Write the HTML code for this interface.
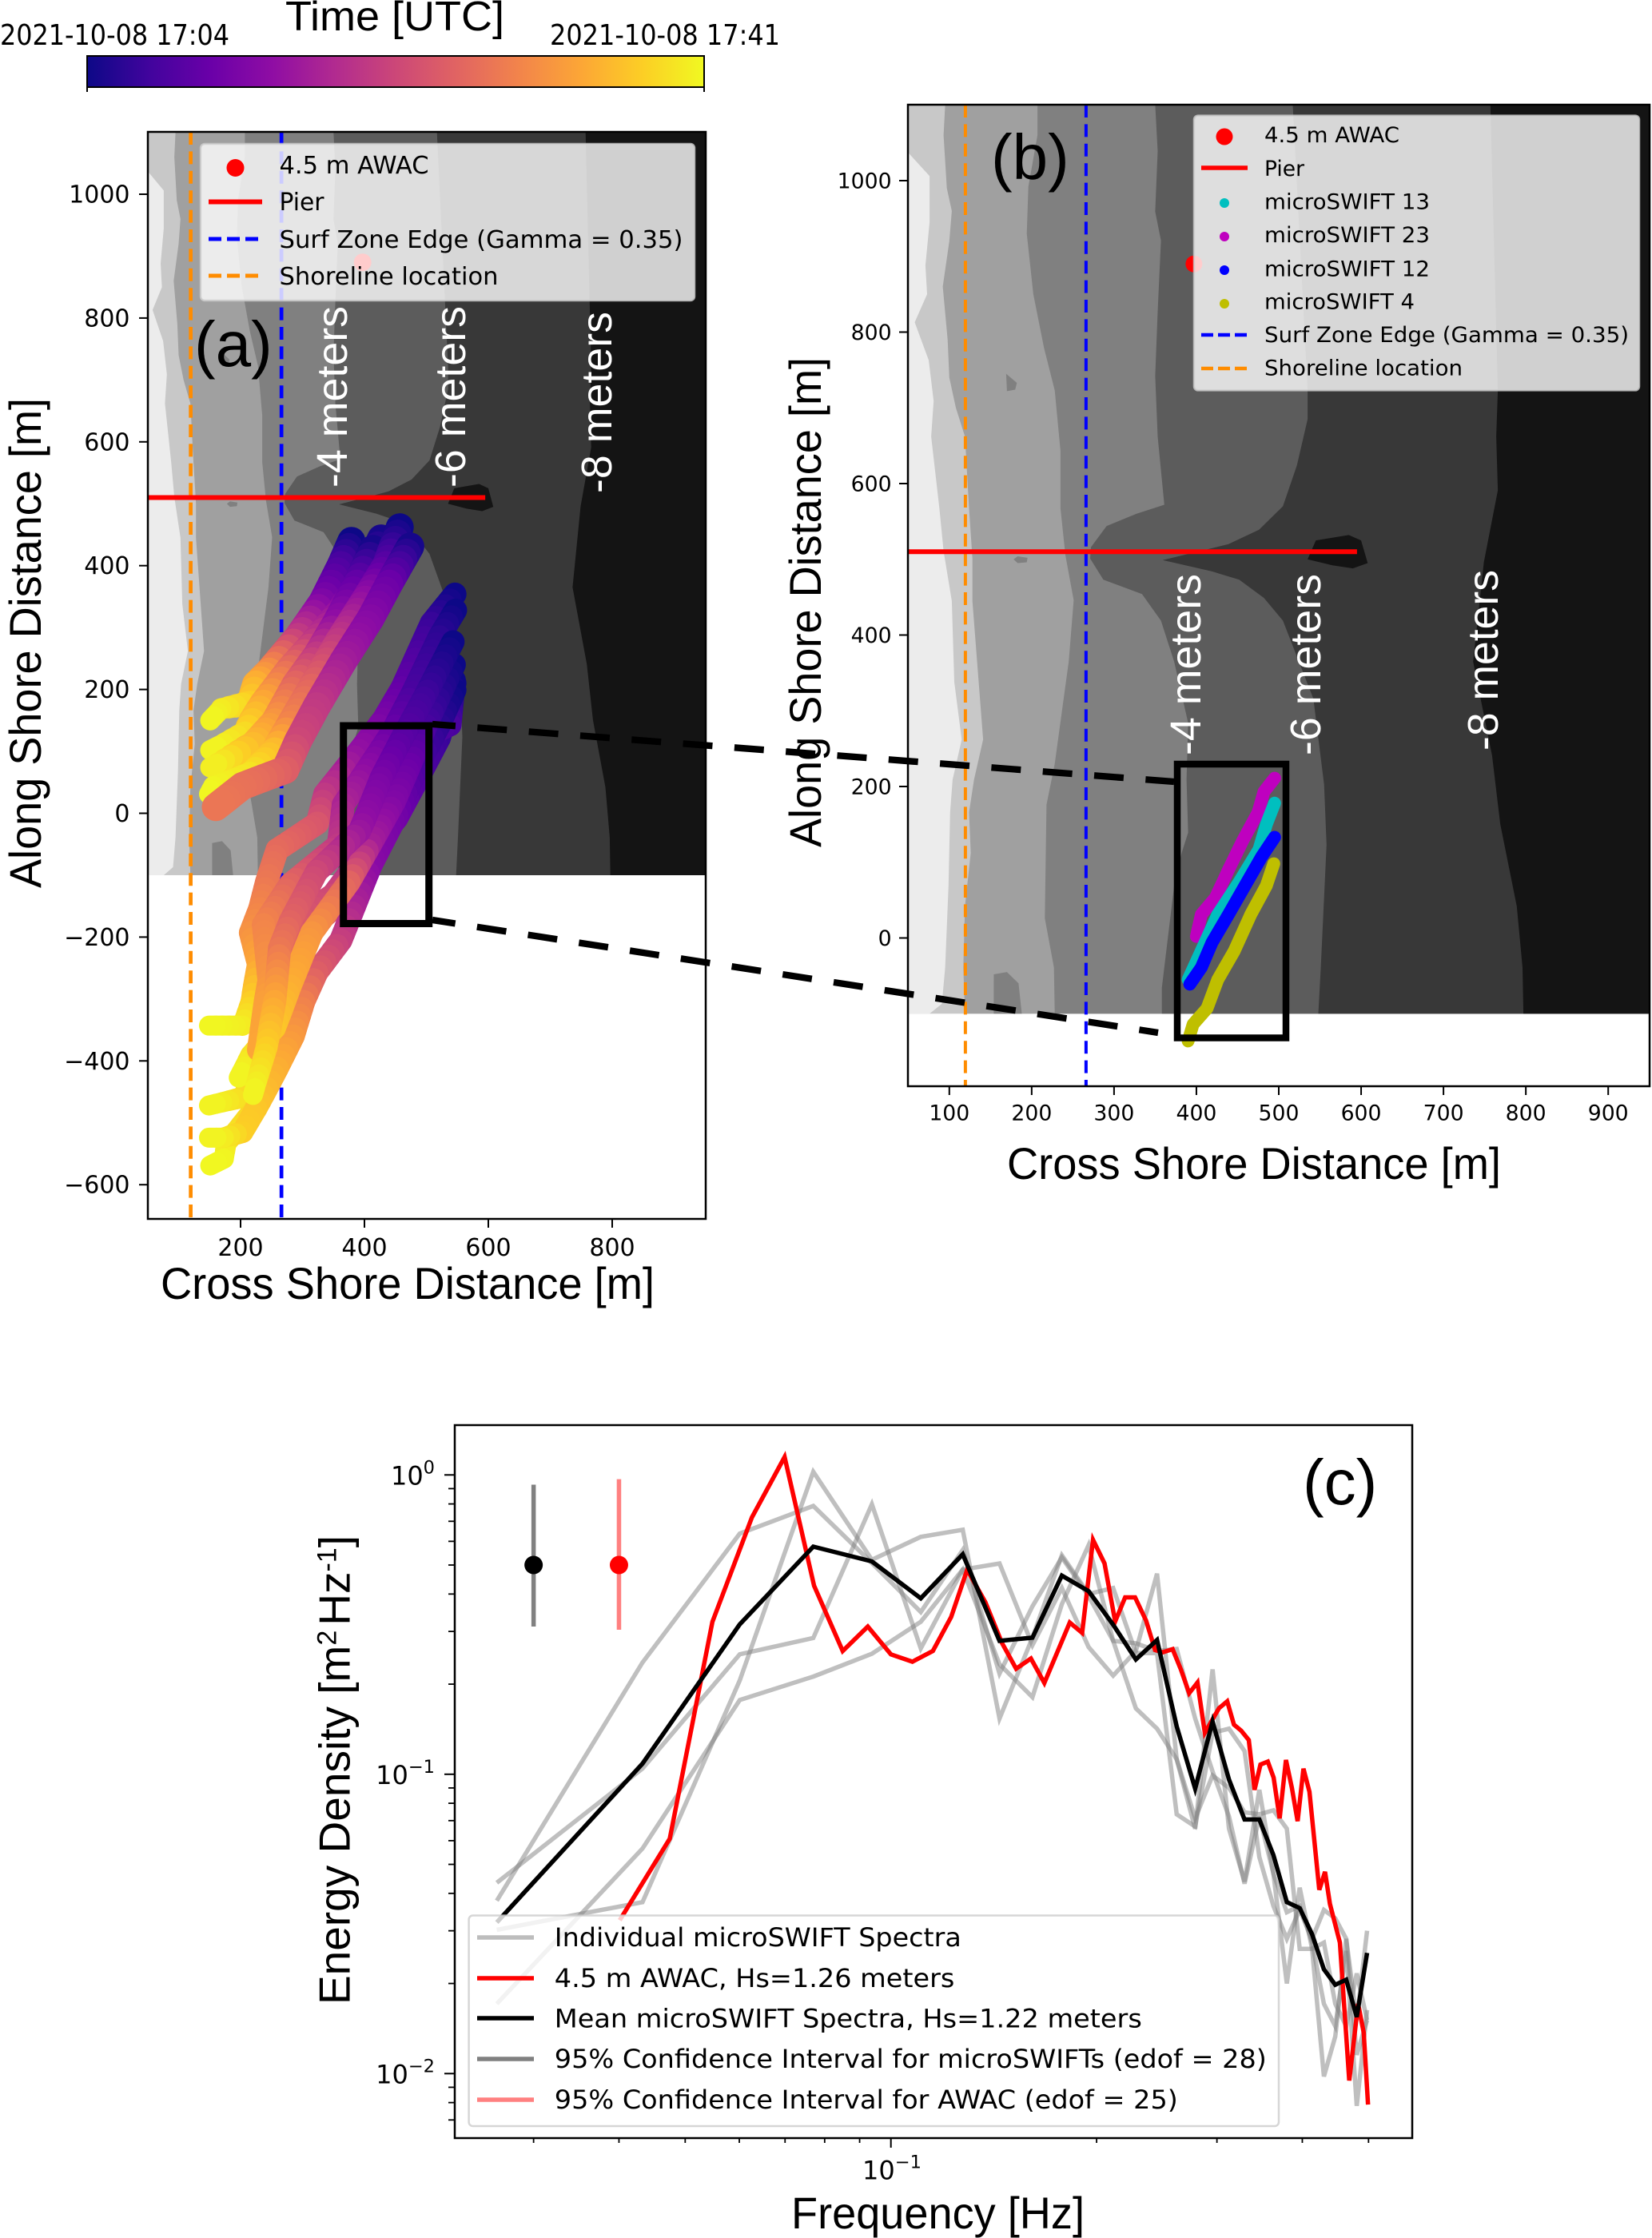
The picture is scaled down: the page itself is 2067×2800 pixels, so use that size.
<!DOCTYPE html>
<html lang="en">
<head>
<meta charset="utf-8">
<title>microSWIFT drift tracks and wave spectra</title>
<style>
html,body{margin:0;padding:0;background:#fff;}
svg{display:block;}
.dj{font-family:"DejaVu Sans",sans-serif;fill:#000;}
.ls{font-family:"Liberation Sans",sans-serif;fill:#000;}
</style>
</head>
<body>
<svg id="fig" xmlns="http://www.w3.org/2000/svg" width="2067" height="2800" viewBox="0 0 2067 2800">
<defs>
<linearGradient id="plasma" x1="0" x2="1" y1="0" y2="0">
<stop offset="0" stop-color="#0d0887"/><stop offset=".1" stop-color="#41049d"/><stop offset=".2" stop-color="#6a00a8"/><stop offset=".3" stop-color="#8f0da4"/><stop offset=".4" stop-color="#b12a90"/><stop offset=".5" stop-color="#cc4778"/><stop offset=".6" stop-color="#e16462"/><stop offset=".7" stop-color="#f2844b"/><stop offset=".8" stop-color="#fca636"/><stop offset=".9" stop-color="#fcce25"/><stop offset="1" stop-color="#f0f921"/>
</linearGradient>
<clipPath id="clipA"><rect x="185" y="165" width="698" height="1360"/></clipPath>
<clipPath id="clipB"><rect x="1136" y="131" width="928" height="1228"/></clipPath>
<clipPath id="clipC"><rect x="569" y="1783" width="1198" height="892"/></clipPath>
</defs>

<g>
<text class="ls" x="357" y="38" font-size="52" textLength="274" lengthAdjust="spacingAndGlyphs">Time [UTC]</text>
<text class="dj" x="0" y="56" font-size="36" textLength="287" lengthAdjust="spacingAndGlyphs">2021-10-08 17:04</text>
<text class="dj" x="688" y="56" font-size="36" textLength="288" lengthAdjust="spacingAndGlyphs">2021-10-08 17:41</text>
<rect x="109" y="70" width="772" height="39" fill="url(#plasma)" stroke="#000" stroke-width="2"/>
<line x1="109" x2="109" y1="109" y2="115" stroke="#000" stroke-width="2"/>
<line x1="881" x2="881" y1="109" y2="115" stroke="#000" stroke-width="2"/>
</g>

<g id="panelA"></g>
<g id="panelB"></g>
<g id="panelC"></g>
<g id="overlays">
<line x1="541" y1="906" x2="1469" y2="978" stroke="#000" stroke-width="8.3" stroke-dasharray="37 27.5" stroke-dashoffset="8"/>
<line x1="541" y1="1151" x2="1449" y2="1292" stroke="#000" stroke-width="8.3" stroke-dasharray="37 27.5" stroke-dashoffset="8"/>
</g>
</svg>

<script>
// ---------- bathymetry contours (cross-shore m, along-shore m) ----------
const contourBeach = [[50,1037],[76,1006],[76,945],[71,888],[73,850],[58,813],[75,763],[81,709],[78,662],[88,567],[93,511],[103,445],[106,338],[115,262],[104,209],[101,166],[99,69],[95,-39],[91,-87],[76,-100],[50,-100]];
const contourMinus1 = [[95,1100],[93,1060],[97,990],[103,960],[100,920],[92,860],[98,790],[100,740],[108,700],[119,662],[124,567],[128,501],[128,445],[141,262],[130,209],[124,166],[126,112],[119,42],[117,-39],[119,-100]];
const contourMinus2 = [[207,1100],[207,1060],[196,992],[194,930],[202,850],[215,779],[228,723],[235,643],[235,567],[241,505],[251,446],[245,365],[228,230],[218,176],[216,26],[227,-39],[228,-100]];
const contourMinus4 = [[350,1100],[353,1039],[350,959],[357,921],[353,827],[350,742],[353,662],[361,572],[327,560],[291,544],[272,516],[271,501],[287,473],[334,454],[357,419],[373,365],[390,284],[388,209],[390,139],[382,112],[373,69],[358,-66],[358,-100]];
const contourMinus6 = [[517,1100],[535,723],[535,685],[522,624],[505,570],[476,539],[439,520],[413,513],[359,499],[419,484],[452,473],[482,449],[505,419],[542,316],[555,203],[558,123],[551,-39],[548,-100]];
const contourMinus8 = [[757,1100],[766,723],[764,662],[766,591],[749,496],[736,365],[759,241],[769,150],[789,42],[796,-39],[797,-100]];
const pierHole = [[535,500],[545,525],[585,532],[600,525],[608,495],[590,488],[565,492]];
const shoalNorth = [[169,745],[182,733],[180,724],[170,722]];
const shoalPier = [[178,500],[183,504],[195,502],[194,496],[183,495]];
const shoalSouth = [[154,-100],[154,-48],[170,-45],[184,-60],[188,-100]];
const bandShades = ['#a0a0a0','#808080','#5c5c5c','#383838','#141414'];

// ---------- site constants ----------
const shorelineX = 119.5;
const surfEdgeX = 266;
const pierY = 510;
const pierEndX = 595;
const awacPos = [397, 890];
const domainSouth = -100;

// ---------- panel (a) drift tracks: [cross-shore, along-shore, normalised time] ----------
const trackN1 = [[474,431,.02],[440,371,.2],[410,315,.27],[366,246,.35],[323,173,.45],[293,117,.5],[272,70,.58],[237,57,.62],[203,44,.64],[160,10,.66]];
const trackN2 = [[457,462,0],[435,401,.15],[401,345,.3],[358,277,.45],[315,203,.6],[280,143,.7],[255,100,.85],[216,66,.95],[156,44,.99],[149,31,1]];
const trackN3 = [[414,427,.02],[388,371,.18],[354,307,.3],[323,255,.45],[289,208,.6],[255,147,.75],[220,109,.85],[151,74,1]];
const trackN4 = [[427,444,.02],[401,388,.15],[362,328,.3],[319,276,.45],[280,233,.62],[237,177,.8],[207,130,.93],[151,102,1]];
const trackN5 = [[379,440,0],[362,401,.12],[332,341,.25],[293,285,.45],[246,229,.72],[225,208,.82],[216,178,.9],[169,169,.97],[151,150,1]];
const trackSA = [[546,199,0],[521,143,.06],[487,79,.12],[452,-3,.22],[410,-85,.28],[384,-150,.38],[362,-205,.47],[323,-257,.58],[302,-304,.68],[285,-360,.76],[259,-412,.82],[225,-477,.88],[203,-515,.9],[173,-524,.97],[149,-524,1]];
const trackSB = [[546,354,0],[508,307,.08],[461,203,.18],[431,152,.24],[384,91,.32],[336,31,.45],[324,-16,.55],[259,-59,.62],[242,-111,.66],[231,-154,.7],[216,-193,.74],[229,-244,.8],[218,-304,.9],[203,-343,.97],[149,-343,1]];
const trackSC = [[547,328,0],[521,285,.06],[478,195,.12],[444,130,.2],[410,79,.28],[366,14,.38],[358,-51,.45],[280,-115,.6],[237,-180,.7],[246,-270,.75],[240,-304,.78],[229,-382,.8]];
const trackSD = [[543,277,0],[496,186,.1],[461,122,.16],[427,57,.24],[401,-8,.3],[392,-29,.33],[323,-94,.5],[280,-175,.6],[263,-218,.66],[255,-304,.8],[242,-378,.9],[220,-455,1]];
const trackSE = [[545,240,0],[504,152,.1],[474,79,.2],[448,18,.26],[410,-50,.36],[375,-111,.6],[315,-193,.75],[280,-279,.82],[255,-347,.88],[216,-391,.95],[197,-427,1]];
const trackSF = [[545,215,0],[538,143,.12],[495,122,.16],[461,53,.2],[435,-8,.27],[427,-29,.29],[349,-132,.5],[298,-167,.55],[272,-210,.6],[263,-270,.68],[242,-391,.85],[203,-459,.93],[149,-472,1]];
const trackSG = [[546,210,0],[521,122,.08],[487,57,.14],[452,-8,.22],[435,-29,.26],[392,-89,.4],[358,-145,.52],[306,-193,.6],[268,-261,.7],[263,-347,.82],[255,-412,.88],[216,-485,.92],[177,-533,.96],[173,-558,.99],[151,-569,1]];
const tracksSouth = [trackSG,trackSF,trackSA,trackSB,trackSE,trackSC,trackSD];
const tracksNorth = [trackN5,trackN4,trackN3,trackN2,trackN1];
const plasmaStops = ['#0d0887','#41049d','#6a00a8','#8f0da4','#b12a90','#cc4778','#e16462','#f2844b','#fca636','#fcce25','#f0f921'];

// ---------- panel (b) drift segments ----------
const swift23 = [[495,211],[482,193],[475,166],[456,128],[439,90],[423,53],[406,31],[400,2]];
const swift13 = [[495,178],[485,150],[476,117],[452,74],[426,31],[406,-17],[390,-55]];
const swift12 = [[495,133],[479,107],[459,69],[439,31],[419,-6],[406,-39],[392,-61]];
const swift4 = [[494,98],[485,69],[466,31],[446,-17],[426,-55],[413,-93],[396,-114],[390,-136]];

// ---------- tick labels ----------
const xTicksA = [200,400,600,800];
const yTicksA = [1000,800,600,400,200,0,-200,-400,-600];
const xTicksB = [100,200,300,400,500,600,700,800,900];
const yTicksB = [1000,800,600,400,200,0];

// ---------- panel (c) spectra ----------
const xMajorC = [0.1];
const xMinorC = [0.03,0.04,0.05,0.06,0.07,0.08,0.09,0.2,0.3,0.4,0.5];
const yMajorC = [1,0.1,0.01];
const yMajorLabels = ['0','\u22121','\u22122'];
const yMinorC = [0.007,0.008,0.009,0.02,0.03,0.04,0.05,0.06,0.07,0.08,0.09,0.2,0.3,0.4,0.5,0.6,0.7,0.8,0.9];
const swiftFreq = [.0265,.0433,.0601,.0770,.0938,.1106,.1274,.1442,.1611,.1779,.1947,.2115,.2283,.2452,.2620,.2788,.2956,.3124,.3293,.3461,.3629,.3797,.3965,.4134,.4302,.4470,.4638,.4806,.4975];
const swiftW = [.0378,.2362,.6367,.788,.5078,.3484,.5615,.217,.364,.530,.394,.279,.274,.258,.262,.1536,.1021,.0723,.0431,.0723,.0466,.0346,.0363,.0274,.0171,.0144,.0257,.0078,.0163];
const swiftX = [.0434,.1045,.2516,.2852,.798,.2632,.483,.506,.270,.419,.266,.2135,.258,.468,.1122,.0658,.224,.0658,.0438,.0887,.0466,.02,.0418,.0261,.00978,.0133,.0282,.01155,.0151];
const swiftY = [.0171,.0565,.177,.212,.2528,.3233,.483,.233,.181,.370,.583,.279,.166,.142,.1122,.0712,.099,.0901,.0746,.0735,.0758,.0658,.0261,.0261,.0274,.0171,.0144,.0216,.0151];
const swiftZ = [.0302,.0374,.2058,1.025,.5206,.6208,.6559,.1536,.286,.539,.400,.419,.254,.254,.0735,.0669,.1376,.142,.1195,.0529,.0363,.0282,.0352,.0282,.0352,.033,.0282,.0151,.03];
const swiftMean = [.032,.1085,.317,.576,.514,.387,.543,.279,.286,.461,.409,.316,.242,.281,.1445,.0895,.15,.096,.0706,.0706,.0537,.0374,.0357,.0292,.0223,.0198,.0206,.01545,.0253];
const awacFreq = [.0401,.04746,.0548,.0626,.0699,.0772,.0850,.0925,.1,.1075,.1152,.1225,.1293,.1375,.1454,.1525,.1603,.1677,.1827,.1905,.1976,.2054,.2129,.2202,.2277,.2363,.2435,.2499,.2584,.2657,.2732,.2810,.2880,.3021,.3106,.3177,.3256,.3340,.3405,.3474,.3561,.3632,.3706,.3786,.3862,.3937,.4016,.4098,.4236,.4318,.4390,.4540,.4686,.4828,.4920,.4992];
const awacEnergy = [.03254,.0609,.3232,.7214,1.148,.4262,.258,.3115,.2515,.2377,.258,.3353,.482,.3756,.2745,.2252,.2436,.2018,.3213,.2967,.6069,.5062,.3239,.3898,.3898,.326,.2602,.2555,.2618,.2238,.1865,.2026,.1376,.1662,.1752,.1465,.1398,.1301,.0887,.1077,.1102,.0974,.0712,.1116,.0901,.0697,.1044,.0874,.0411,.0472,.0369,.0274,.00948,.0171,.0137,.00788];
const ciFreq = [0.03,0.04];
const ciCenter = [0.5,0.5];
const ciLow = [0.3115,0.304];
const ciHigh = [0.928,0.968];

// ---------- axis functions ----------
const xA = v => 301 + (v - 200) * 0.775;
const yA = v => 1017.5 - v * 0.7745;
const xB = v => 1187.8 + (v - 100) * 1.0305;
const yB = v => 1173.5 - v * 0.9475;
const xC = f => 1114.7 + 855 * Math.log10(f / 0.1);
const yC = e => 1845.3 - 374.5 * Math.log10(e);

const NS = 'http://www.w3.org/2000/svg';
function mk(parent, tag, attrs, txt) {
  const el = document.createElementNS(NS, tag);
  for (const k in attrs) el.setAttribute(k, attrs[k]);
  if (txt !== undefined) el.textContent = txt;
  parent.appendChild(el);
  return el;
}
function plasma(t) {
  const p = Math.max(0, Math.min(1, t)) * 10;
  const i = Math.min(9, Math.floor(p));
  const f = p - i;
  const c = s => [1, 3, 5].map(k => parseInt(s.substr(k, 2), 16));
  const a = c(plasmaStops[i]), b = c(plasmaStops[i + 1]);
  return 'rgb(' + a.map((v, k) => Math.round(v + (b[k] - v) * f)).join(',') + ')';
}
const pts = (arr, fx, fy) => arr.map(p => fx(p[0]).toFixed(1) + ',' + fy(p[1]).toFixed(1)).join(' ');

function drawBathy(g, fx, fy, clip) {
  const b = mk(g, 'g', {'clip-path': 'url(#' + clip + ')'});
  
  
  const base = mk(b, 'rect', {x: fx(50), y: fy(1100), width: fx(950) - fx(50), height: fy(domainSouth) - fy(1100), fill: '#c8c8c8'});
  
  
  const beach = mk(b, 'polygon', {points: pts(contourBeach, fx, fy), fill: '#ececec'});
  
  
  [contourMinus1, contourMinus2, contourMinus4, contourMinus6, contourMinus8].forEach((c, i) => {
    const ring = c.concat([[950, domainSouth], [950, 1100]]);
    const band = mk(b, 'polygon', {points: pts(ring, fx, fy), fill: bandShades[i]});
    
    
  });
  const hole = mk(b, 'polygon', {points: pts(pierHole, fx, fy), fill: '#141414'});
  
  
  [shoalNorth, shoalPier, shoalSouth].forEach(s => {
    const sh = mk(b, 'polygon', {points: pts(s, fx, fy), fill: '#808080'});
    
    
  });
}
function drawRefLines(g, fx, fy, top, bottom, clip, w) {
  const o = mk(g, 'line', {x1: fx(shorelineX), x2: fx(shorelineX), y1: top, y2: bottom, stroke: '#ff8c00', 'stroke-width': w, 'stroke-dasharray': '16 8.4'});
  
  
  const s = mk(g, 'line', {x1: fx(surfEdgeX), x2: fx(surfEdgeX), y1: top, y2: bottom, stroke: '#0000ff', 'stroke-width': w, 'stroke-dasharray': '16 8.4'});
  
  
  const p = mk(g, 'line', {x1: fx(50), x2: fx(pierEndX), y1: fy(pierY), y2: fy(pierY), stroke: '#ff0000', 'stroke-width': 6});
  
  
}
function drawAwac(g, fx, fy, r) {
  const a = mk(g, 'circle', {cx: fx(awacPos[0]), cy: fy(awacPos[1]), r: r, fill: '#ff0000'});
  
  
}
function drawFrame(g, x, y, w, h) {
  const f = mk(g, 'rect', {x: x, y: y, width: w, height: h, fill: 'none', stroke: '#000', 'stroke-width': 2.5});
  
  
}
function drawMapTicks(g, xt, yt, fx, fy, left, bottom, fs, lx, by, dy) {
  xt.forEach(v => {
    const t = mk(g, 'line', {x1: fx(v), x2: fx(v), y1: bottom, y2: bottom + 11, stroke: '#000', 'stroke-width': 2});
    
    
    const l = mk(g, 'text', {x: fx(v), y: by, 'font-size': fs, 'text-anchor': 'middle', class: 'dj'}, String(v));
    
    
  });
  yt.forEach(v => {
    const t = mk(g, 'line', {x1: left - 11, x2: left, y1: fy(v), y2: fy(v), stroke: '#000', 'stroke-width': 2});
    
    
    const l = mk(g, 'text', {x: lx, y: fy(v) + dy, 'font-size': fs, 'text-anchor': 'end', class: 'dj'}, String(v).replace('-', '\u2212'));
    
    
  });
}
function rotLabel(g, txt, x, y, fs, len, fill, cls) {
  const l = mk(g, 'text', {transform: 'translate(' + x + ',' + y + ') rotate(-90)', 'font-size': fs, textLength: len, lengthAdjust: 'spacingAndGlyphs', class: cls || 'ls'}, txt);
  if (fill) l.style.fill = fill;
  return l;
}
function drawLegend(g, box, rows, textX, handleX1, handleX2, fs) {
  const lg = mk(g, 'g', {});
  
  
  const bg = mk(lg, 'rect', {x: box[0], y: box[1], width: box[2], height: box[3], rx: 5, fill: '#fff', 'fill-opacity': .8, stroke: '#ccc', 'stroke-opacity': .8, 'stroke-width': 2.5});
  
  
  rows.forEach(r => {
    const mid = (handleX1 + handleX2) / 2;
    if (r.kind === 'dot') {
      const d = mk(lg, 'circle', {cx: mid, cy: r.hy, r: r.r, fill: r.color});
      
      
    } else {
      const a = {x1: handleX1, x2: handleX2, y1: r.hy, y2: r.hy, stroke: r.color, 'stroke-width': r.w || 5.5};
      if (r.dash) a['stroke-dasharray'] = r.dash;
      const d = mk(lg, 'line', a);
      
      
    }
    const t = mk(lg, 'text', {x: textX, y: r.by, 'font-size': fs, textLength: r.len, lengthAdjust: 'spacingAndGlyphs', class: 'dj'}, r.text);
    
    
  });
}

// ---------- panel (a) ----------
const A = document.getElementById('panelA');
drawBathy(A, xA, yA, 'clipA');
drawRefLines(A, xA, yA, 165, 1525, 'clipA', 4.7);
drawAwac(A, xA, yA, 11);
const tracksGroup = mk(A, 'g', {'clip-path': 'url(#clipA)', 'stroke-linecap': 'round', fill: 'none'});


function drawTrack(tr, bodyWidth) {
  const g = mk(tracksGroup, 'g', {});
  
  
  for (let i = 0; i < tr.length - 1; i++) {
    const x0 = xA(tr[i][0]), y0 = yA(tr[i][1]), x1 = xA(tr[i + 1][0]), y1 = yA(tr[i + 1][1]);
    const steps = Math.max(1, Math.ceil(Math.hypot(x1 - x0, y1 - y0) / 10));
    for (let s = 0; s < steps; s++) {
      const a = s / steps, b = (s + 1) / steps;
      const t = tr[i][2] + (tr[i + 1][2] - tr[i][2]) * a;
      const taper = Math.max(0, Math.min(1, (t - 0.85) / 0.12));
      const seg = mk(g, 'line', {x1: x0 + (x1 - x0) * a, y1: y0 + (y1 - y0) * a, x2: x0 + (x1 - x0) * b, y2: y0 + (y1 - y0) * b, 'stroke-width': bodyWidth - (bodyWidth - 25) * taper, stroke: plasma(t)});
      
      
    }
  }
}
tracksSouth.forEach(tr => drawTrack(tr, 29));
tracksNorth.forEach(tr => drawTrack(tr, 35));
drawFrame(A, 185, 165, 698, 1360);
drawMapTicks(A, xTicksA, yTicksA, xA, yA, 185, 1525, 30, 162.5, 1571, 10.5);
const depthLabelsA = [['-4 meters', 434, 610, 227], ['-6 meters', 582, 610, 227], ['-8 meters', 765, 617, 227]];
depthLabelsA.forEach(d => {
  const l = rotLabel(A, d[0], d[1], d[2], 54, d[3], '#fff');
  
  
});
const tagA = mk(A, 'text', {x: 243, y: 458, 'font-size': 80, class: 'ls'}, '(a)');


drawLegend(A, [251, 180, 618, 196], [
  {kind: 'dot', hy: 210, r: 11, color: '#ff0000', by: 217, len: 187, text: '4.5 m AWAC'},
  {kind: 'line', hy: 252.5, w: 6, color: '#ff0000', by: 263, len: 56, text: 'Pier'},
  {kind: 'line', hy: 299, w: 5, dash: '16 7', color: '#0000ff', by: 310, len: 505, text: 'Surf Zone Edge (Gamma = 0.35)'},
  {kind: 'line', hy: 345, w: 5, dash: '16 7', color: '#ff8c00', by: 356, len: 274, text: 'Shoreline location'}
], 349.5, 261, 328, 30);
const xlA = mk(A, 'text', {x: 201, y: 1625, 'font-size': 56, textLength: 618, lengthAdjust: 'spacingAndGlyphs', class: 'ls'}, 'Cross Shore Distance [m]');


const ylA = rotLabel(A, 'Along Shore Distance [m]', 51, 1111, 56, 613);


const boxA = mk(A, 'rect', {x: 429.7, y: 908, width: 107, height: 247.5, fill: 'none', stroke: '#000', 'stroke-width': 9});



// ---------- panel (b) ----------
const B = document.getElementById('panelB');
drawBathy(B, xB, yB, 'clipB');
drawRefLines(B, xB, yB, 131, 1359, 'clipB', 4);
drawAwac(B, xB, yB, 10.5);
const swiftSeries = [[swift23, '#bf00bf'], [swift13, '#00bfbf'], [swift12, '#0000ff'], [swift4, '#bfbf00']];
swiftSeries.forEach(s => {
  const l = mk(B, 'polyline', {points: pts(s[0], xB, yB), fill: 'none', stroke: s[1], 'stroke-width': 16, 'stroke-linecap': 'round', 'stroke-linejoin': 'round'});
  
  
});
drawFrame(B, 1136, 131, 928, 1228);
drawMapTicks(B, xTicksB, yTicksB, xB, yB, 1136, 1359, 26.7, 1115.6, 1401.5, 9.7);
const depthLabelsB = [['-4 meters', 1502, 945, 227], ['-6 meters', 1652, 945, 227], ['-8 meters', 1874, 939, 226]];
depthLabelsB.forEach(d => {
  const l = rotLabel(B, d[0], d[1], d[2], 54, d[3], '#fff');
  
  
});
const tagB = mk(B, 'text', {x: 1240, y: 224, 'font-size': 80, class: 'ls'}, '(b)');


drawLegend(B, [1494, 144.6, 557, 343.8], [
  {kind: 'dot', hy: 171, r: 10.5, color: '#ff0000', by: 178, len: 169, text: '4.5 m AWAC'},
  {kind: 'line', hy: 210, w: 5.5, color: '#ff0000', by: 220, len: 50, text: 'Pier'},
  {kind: 'dot', hy: 254, r: 6, color: '#00bfbf', by: 261.6, len: 207, text: 'microSWIFT 13'},
  {kind: 'dot', hy: 296, r: 6, color: '#bf00bf', by: 303, len: 207, text: 'microSWIFT 23'},
  {kind: 'dot', hy: 338, r: 6, color: '#0000ff', by: 345.5, len: 207, text: 'microSWIFT 12'},
  {kind: 'dot', hy: 380, r: 6, color: '#bfbf00', by: 386.6, len: 188, text: 'microSWIFT 4'},
  {kind: 'line', hy: 419, w: 4.5, dash: '15 6', color: '#0000ff', by: 428, len: 456, text: 'Surf Zone Edge (Gamma = 0.35)'},
  {kind: 'line', hy: 461, w: 4.5, dash: '15 6', color: '#ff8c00', by: 469.6, len: 248, text: 'Shoreline location'}
], 1582, 1503, 1561, 27);
const xlB = mk(B, 'text', {x: 1260, y: 1475, 'font-size': 56, textLength: 618, lengthAdjust: 'spacingAndGlyphs', class: 'ls'}, 'Cross Shore Distance [m]');


const ylB = rotLabel(B, 'Along Shore Distance [m]', 1027, 1060, 56, 613);


const boxB = mk(B, 'rect', {x: 1473, y: 956, width: 136, height: 342.5, fill: 'none', stroke: '#000', 'stroke-width': 8.5});



// ---------- panel (c) ----------
const C = document.getElementById('panelC');
const plotC = mk(C, 'g', {'clip-path': 'url(#clipC)', fill: 'none', 'stroke-linejoin': 'miter'});


const linePts = (fs, es) => fs.map((f, i) => xC(f).toFixed(1) + ',' + yC(es[i]).toFixed(1)).join(' ');
[swiftW, swiftX, swiftY, swiftZ].forEach(s => {
  const l = mk(plotC, 'polyline', {points: linePts(swiftFreq, s), stroke: '#808080', 'stroke-opacity': .5, 'stroke-width': 5.5});
  
  
});
const redLine = mk(plotC, 'polyline', {points: linePts(awacFreq, awacEnergy), stroke: '#ff0000', 'stroke-width': 5.5});


const blackLine = mk(plotC, 'polyline', {points: linePts(swiftFreq, swiftMean), stroke: '#000', 'stroke-width': 5.5});


const ciColors = ['#808080', '#ff8080'];
const ciDots = ['#000000', '#ff0000'];
ciFreq.forEach((f, i) => {
  const v = mk(C, 'line', {x1: xC(f), x2: xC(f), y1: yC(ciHigh[i]), y2: yC(ciLow[i]), stroke: ciColors[i], 'stroke-width': 5.5});
  
  
  const d = mk(C, 'circle', {cx: xC(f), cy: yC(ciCenter[i]), r: 11.5, fill: ciDots[i]});
  
  
});
drawLegend(C, [586.6, 2396.5, 1013.4, 263.5], [
  {kind: 'line', hy: 2424, color: '#bdbdbd', by: 2435, len: 509, text: 'Individual microSWIFT Spectra'},
  {kind: 'line', hy: 2475, color: '#ff0000', by: 2486, len: 500.5, text: '4.5 m AWAC, Hs=1.26 meters'},
  {kind: 'line', hy: 2525, color: '#000000', by: 2536.7, len: 735, text: 'Mean microSWIFT Spectra, Hs=1.22 meters'},
  {kind: 'line', hy: 2576, color: '#808080', by: 2587, len: 891, text: '95% Confidence Interval for microSWIFTs (edof = 28)'},
  {kind: 'line', hy: 2627, color: '#ff8080', by: 2638, len: 780, text: '95% Confidence Interval for AWAC (edof = 25)'}
], 693.8, 597, 668, 32);
drawFrame(C, 569, 1783, 1198, 892);
xMajorC.forEach(f => {
  const t = mk(C, 'line', {x1: xC(f), x2: xC(f), y1: 2675, y2: 2687, stroke: '#000', 'stroke-width': 2});
  
  
  const l = mk(C, 'text', {x: 1079, y: 2726.7, 'font-size': 32, class: 'dj'}, '10');
  
  
  mk(l, 'tspan', {dy: -14, 'font-size': 22.5}, '\u22121');
});
xMinorC.forEach(f => {
  const t = mk(C, 'line', {x1: xC(f), x2: xC(f), y1: 2675, y2: 2681, stroke: '#000', 'stroke-width': 1.8});
  
  
});
yMajorC.forEach((e, i) => {
  const t = mk(C, 'line', {x1: 556, x2: 569, y1: yC(e), y2: yC(e), stroke: '#000', 'stroke-width': 2});
  
  
  const l = mk(C, 'text', {x: 544, y: yC(e) + 12.4, 'font-size': 32, 'text-anchor': 'end', class: 'dj'}, '10');
  
  
  mk(l, 'tspan', {dy: -14, 'font-size': 22.5}, yMajorLabels[i]);
});
yMinorC.forEach(e => {
  const t = mk(C, 'line', {x1: 561, x2: 569, y1: yC(e), y2: yC(e), stroke: '#000', 'stroke-width': 1.8});
  
  
});
const tagC = mk(C, 'text', {x: 1630, y: 1882, 'font-size': 80, class: 'ls'}, '(c)');


const xlC = mk(C, 'text', {x: 990, y: 2788, 'font-size': 56, textLength: 367, lengthAdjust: 'spacingAndGlyphs', class: 'ls'}, 'Frequency [Hz]');


const ylC = mk(C, 'text', {transform: 'translate(437.6,2508) rotate(-90)', 'font-size': 55, class: 'ls'}, 'Energy Density [m');


mk(ylC, 'tspan', {dy: -17, 'font-size': 34}, '2');
mk(ylC, 'tspan', {dy: 17, dx: 6}, 'Hz');
mk(ylC, 'tspan', {dy: -17, 'font-size': 34}, '-1');
mk(ylC, 'tspan', {dy: 17}, ']');
</script>
</body>
</html>
